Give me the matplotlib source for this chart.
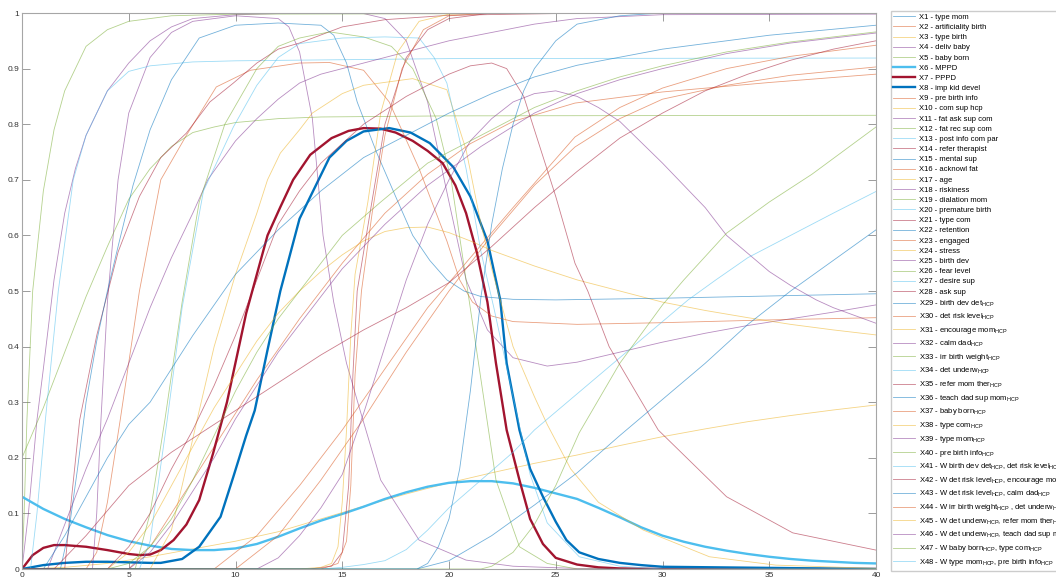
import matplotlib.pyplot as plt

plt.rcParams['font.family'] = ['Liberation Sans', 'DejaVu Sans']
plt.rcParams['mathtext.fontset'] = 'custom'
plt.rcParams['mathtext.rm'] = 'Liberation Sans'

H = '$_{\\mathrm{HCP}}$'
names = [
    'X1 - type mom', 'X2 - artificiality birth', 'X3 - type birth', 'X4 - deliv baby',
    'X5 - baby born', 'X6 - MPPD', 'X7 - PPPD', 'X8 - imp kid devel',
    'X9 - pre birth info', 'X10 - com sup hcp', 'X11 - fat ask sup com', 'X12 - fat rec sup com',
    'X13 - post info com par', 'X14 - refer therapist', 'X15 - mental sup', 'X16 - acknowl fat',
    'X17 - age', 'X18 - riskiness', 'X19 - dialation mom', 'X20 - premature birth',
    'X21 - type com', 'X22 - retention', 'X23 - engaged', 'X24 - stress',
    'X25 - birth dev', 'X26 - fear level', 'X27 - desire sup', 'X28 - ask sup',
    'X29 - birth dev det' + H, 'X30 - det risk level' + H, 'X31 - encourage mom' + H,
    'X32 - calm dad' + H, 'X33 - irr birth weight' + H, 'X34 - det underw' + H,
    'X35 - refer mom ther' + H, 'X36 - teach dad sup mom' + H, 'X37 - baby born' + H,
    'X38 - type com' + H, 'X39 - type mom' + H, 'X40 - pre birth info' + H,
    'X41 - W birth dev det' + H + ', det risk level' + H,
    'X42 - W det risk level' + H + ', encourage mom' + H,
    'X43 - W det risk level' + H + ', calm dad' + H,
    'X44 - W irr birth weight' + H + ' , det underw' + H,
    'X45 - W det underw' + H + ', refer mom ther' + H,
    'X46 - W det underw' + H + ', teach dad sup mom' + H,
    'X47 - W baby born' + H + ', type com' + H,
    'X48 - W type mom' + H + ', pre birth info' + H,
]

# (t, value) points
zero_line = [(0, 0), (40, 0)]
s01 = [(0, 1), (40, 1)]
s02 = [(0, 0), (5, 0), (6, 0.04), (7, 0.1), (9, 0.22), (11, 0.34), (13, 0.45), (15, 0.55), (17, 0.64),
       (19, 0.71), (21, 0.765), (23, 0.805), (25.9, 0.838), (30, 0.858), (35, 0.875), (40, 0.89)]
s03 = [(0, 0), (2, 0.003), (4, 0.01), (6, 0.022), (8, 0.036), (10, 0.05), (12, 0.067), (14, 0.09),
       (16, 0.113), (18, 0.135), (20, 0.155), (22, 0.173), (24, 0.19), (26, 0.205), (28, 0.222),
       (30, 0.238), (32, 0.252), (34, 0.265), (36, 0.276), (38, 0.286), (40, 0.295)]
s04 = [(0, 0), (0.3, 0.1), (0.7, 0.268), (1, 0.36), (1.5, 0.52), (2, 0.64), (2.5, 0.72), (3, 0.78),
       (4, 0.86), (5, 0.91), (6, 0.95), (7, 0.975), (8, 0.99), (10, 0.997), (12, 0.999), (16, 0.999),
       (17, 0.99), (18, 0.95), (19, 0.84), (20, 0.66), (20.8, 0.52), (21.8, 0.43), (23, 0.38),
       (24.6, 0.365), (26, 0.372), (28, 0.39), (30, 0.408), (32, 0.424), (34, 0.438), (36, 0.45),
       (38, 0.462), (40, 0.475)]
s05 = [(0, 0), (0.1, 0.1), (0.23, 0.268), (0.5, 0.5), (1, 0.68), (1.5, 0.79), (2, 0.86), (3, 0.94),
       (4, 0.97), (5, 0.985), (7, 0.995), (10, 0.998), (40, 1)]
s06_y = [0.13, 0.108, 0.09, 0.075, 0.061, 0.05, 0.042, 0.036, 0.034, 0.034, 0.037, 0.045, 0.058,
         0.073, 0.087, 0.099, 0.112, 0.126, 0.138, 0.148, 0.155, 0.158, 0.158, 0.154, 0.146, 0.136,
         0.126, 0.11, 0.093, 0.075, 0.06, 0.049, 0.04, 0.033, 0.027, 0.022, 0.018, 0.015, 0.013,
         0.011, 0.01]
s06 = list(zip(range(41), s06_y))
s07 = [(0, 0), (0.5, 0.025), (1, 0.038), (1.5, 0.043), (2, 0.043), (3, 0.04), (4, 0.034), (5, 0.027),
       (5.5, 0.025), (6, 0.026), (6.5, 0.034), (7.1, 0.052), (7.7, 0.08), (8.3, 0.124), (8.95, 0.208),
       (9.6, 0.3), (10.5, 0.46), (11.5, 0.6), (12.1, 0.651), (12.7, 0.7), (13.5, 0.745), (14.5, 0.775),
       (15.3, 0.788), (16, 0.793), (16.8, 0.792), (17.5, 0.785), (18.3, 0.77), (19, 0.752),
       (19.7, 0.73), (20.3, 0.69), (20.8, 0.64), (21.3, 0.57), (21.8, 0.48), (22.2, 0.37),
       (22.7, 0.25), (23.3, 0.16), (23.8, 0.09), (24.4, 0.045), (25, 0.02), (26, 0.008),
       (27, 0.003), (28, 0.001), (30, 0), (40, 0)]
s08 = [(0, 0), (1, 0.007), (2, 0.011), (3, 0.013), (4, 0.013), (5, 0.012), (6, 0.011), (6.5, 0.011),
       (7.5, 0.018), (8.3, 0.04), (9.3, 0.094), (9.9, 0.166), (10.5, 0.24), (10.9, 0.285),
       (11.5, 0.394), (12.1, 0.5), (13, 0.63), (14.4, 0.74), (15.2, 0.77), (16, 0.787), (17.2, 0.793),
       (18.2, 0.785), (19.1, 0.766), (20.2, 0.723), (21, 0.67), (21.8, 0.59), (22.4, 0.484),
       (22.7, 0.37), (23.3, 0.25), (23.8, 0.18), (24.4, 0.13), (25, 0.085), (25.5, 0.052),
       (26.1, 0.03), (27, 0.018), (28, 0.011), (29, 0.007), (30, 0.004), (40, 0)]
s09 = [(0, 0), (3, 0), (3.5, 0.03), (4, 0.12), (4.6, 0.268), (5.5, 0.5), (6.5, 0.7), (7.7, 0.78),
       (9.1, 0.867), (10.7, 0.897), (13, 0.91), (14.4, 0.911), (16, 0.897), (17.2, 0.84),
       (18.6, 0.72), (19.9, 0.59), (20.5, 0.52), (21.1, 0.48), (22, 0.455), (23, 0.445), (26, 0.44),
       (30, 0.443), (35, 0.448), (40, 0.452)]
s10 = [(0, 0), (4, 0), (5, 0.03), (6, 0.08), (7, 0.15), (8, 0.22), (9, 0.29), (10, 0.35), (11, 0.41),
       (12, 0.46), (13, 0.5), (14, 0.535), (15, 0.565), (16, 0.59), (17, 0.607), (18, 0.614),
       (19, 0.615), (20, 0.605), (21, 0.59), (22, 0.573), (24, 0.545), (26, 0.52), (28, 0.5),
       (30, 0.48), (32, 0.465), (34, 0.452), (36, 0.44), (38, 0.43), (40, 0.421)]
s11 = [(0, 0), (3.3, 0), (3.5, 0.1), (3.7, 0.27), (4, 0.48), (4.5, 0.7), (5, 0.82), (6, 0.92),
       (7, 0.965), (8, 0.985), (10, 0.995), (12, 0.99), (12.5, 0.975), (13, 0.93), (13.6, 0.81),
       (14.1, 0.6), (14.6, 0.48), (15.2, 0.37), (15.8, 0.29), (16.8, 0.16), (18.6, 0.052),
       (20.8, 0.016), (23, 0.005), (26, 0.001), (40, 0)]
s12 = [(0, 0.2), (1, 0.29), (2, 0.39), (3, 0.49), (4, 0.58), (5, 0.665), (6, 0.72), (7, 0.76),
       (8, 0.785), (9, 0.795), (10, 0.803), (12, 0.81), (14, 0.813), (20, 0.815), (40, 0.816)]
s13 = [(0, 0), (0.4, 0), (0.7, 0.1), (1.1, 0.27), (1.7, 0.5), (2.4, 0.7), (3, 0.78), (4, 0.86),
       (5, 0.895), (6, 0.905), (8, 0.912), (10, 0.914), (15, 0.916), (20, 0.918), (40, 0.919)]
s14 = [(0, 0), (2, 0), (2.3, 0.12), (2.7, 0.268), (3.5, 0.42), (4.5, 0.57), (5.5, 0.67), (6.5, 0.74),
       (7.7, 0.784), (8.8, 0.84), (9.9, 0.874), (11, 0.91), (12, 0.935), (13, 0.946), (15, 0.975),
       (17, 0.988), (20, 0.996), (25, 0.999), (40, 1)]
s15 = [(0, 0), (1.8, 0), (2.2, 0.07), (2.6, 0.18), (3, 0.3), (3.5, 0.41), (4, 0.5), (4.5, 0.58),
       (5.2, 0.69), (6, 0.79), (7, 0.88), (8.3, 0.955), (10, 0.978), (12, 0.982), (14, 0.978),
       (14.6, 0.96), (15.2, 0.91), (15.7, 0.84), (16.6, 0.75), (17.5, 0.67), (18.3, 0.6),
       (19.1, 0.555), (19.9, 0.52), (20.7, 0.5), (21.5, 0.49), (23, 0.485), (25, 0.484),
       (30, 0.487), (35, 0.491), (40, 0.495)]
s16 = [(0, 0), (9, 0), (11, 0.06), (13, 0.15), (15, 0.25), (17, 0.36), (19, 0.47), (21, 0.56),
       (23, 0.65), (25.9, 0.777), (28, 0.83), (30, 0.865), (33, 0.9), (36, 0.922), (40, 0.942)]
s17 = [(0, 0), (6, 0), (7, 0.07), (7.5, 0.15), (8.2, 0.268), (9, 0.4), (10, 0.53), (11, 0.64),
       (11.5, 0.7), (12.1, 0.748), (13, 0.79), (13.6, 0.82), (15, 0.855), (16, 0.87), (18.3, 0.882),
       (19.9, 0.862), (20.8, 0.754), (21.5, 0.62), (22, 0.54), (22.5, 0.47), (23, 0.4), (24, 0.31),
       (24.6, 0.26), (25.7, 0.18), (27, 0.12), (29.1, 0.07), (32.2, 0.022), (35.3, 0.007),
       (40, 0.001)]
s18 = [(0, 0), (1.2, 0), (2, 0.08), (3, 0.18), (4, 0.27), (5, 0.37), (6, 0.47), (7, 0.56), (8, 0.64),
       (8.7, 0.7), (10, 0.77), (11, 0.81), (12, 0.845), (13, 0.874), (14, 0.89), (16, 0.91),
       (18, 0.93), (20, 0.95), (22, 0.965), (24, 0.98), (26, 0.99), (30, 0.997), (40, 0.998)]
s19 = [(0, 0), (5.3, 0), (6, 0.1), (6.7, 0.27), (7.5, 0.48), (8.3, 0.66), (9.5, 0.8), (11, 0.9),
       (12, 0.94), (13, 0.955), (14.4, 0.966), (16, 0.957), (17.3, 0.94), (18.3, 0.9), (19.4, 0.81),
       (20.1, 0.7), (20.8, 0.52), (21.5, 0.34), (22.2, 0.16), (23.3, 0.04), (24.6, 0.01), (26, 0),
       (40, 0)]
s20 = [(0, 0), (5.5, 0), (6, 0.05), (6.8, 0.268), (7.5, 0.47), (8.5, 0.68), (9.9, 0.795), (11, 0.87),
       (12, 0.92), (13, 0.945), (15, 0.955), (17, 0.957), (18.6, 0.955), (19.3, 0.92),
       (19.9, 0.874), (20.8, 0.72), (21.5, 0.57), (22.1, 0.47), (23, 0.31), (23.8, 0.17),
       (24.6, 0.083), (26.1, 0.022), (28, 0.005), (30, 0), (40, 0)]
s21 = [(0, 0), (13.5, 0), (14.5, 0.005), (15, 0.03), (15.3, 0.15), (15.5, 0.35), (15.7, 0.5),
       (16.3, 0.64), (17, 0.8), (18, 0.92), (19, 0.97), (20, 0.99), (22, 1), (40, 1)]
s22 = [(0, 0), (1, 0), (2, 0.06), (3, 0.13), (4, 0.2), (5, 0.26), (6, 0.3), (8, 0.42), (10, 0.53),
       (12, 0.61), (14, 0.68), (16, 0.74), (18, 0.78), (20, 0.82), (22, 0.855), (24, 0.885),
       (26, 0.906), (30, 0.935), (35, 0.96), (40, 0.978)]
s23 = [(0, 0), (10, 0), (12, 0.06), (14, 0.16), (16, 0.27), (18, 0.39), (20, 0.5), (22, 0.6),
       (24, 0.69), (25.9, 0.759), (28, 0.81), (30, 0.845), (33, 0.87), (36, 0.888), (40, 0.903)]
s24 = [(0, 0), (13, 0), (14, 0.003), (14.5, 0.01), (14.8, 0.04), (15, 0.12), (15.2, 0.25),
       (15.4, 0.42), (15.6, 0.53), (16.2, 0.66), (16.8, 0.82), (17.6, 0.93), (18.6, 0.985),
       (20, 0.998), (22, 1), (40, 1)]
s25 = [(0, 0), (11, 0), (12, 0.02), (13, 0.06), (14, 0.11), (15, 0.17), (16, 0.28), (17, 0.4),
       (18, 0.52), (19, 0.62), (20, 0.7), (21, 0.77), (22, 0.81), (23, 0.84), (24, 0.855),
       (25, 0.86), (26, 0.85), (27, 0.83), (28, 0.805), (30, 0.73), (32, 0.65), (33, 0.6),
       (35, 0.535), (36, 0.51), (37.2, 0.484), (38, 0.47), (40, 0.442)]
s26 = [(0, 0), (4, 0), (5, 0.01), (6, 0.04), (7, 0.09), (8, 0.16), (9, 0.24), (10, 0.32), (11, 0.39),
       (12, 0.45), (13, 0.5), (14, 0.55), (15, 0.6), (16.8, 0.66), (19, 0.73), (21.5, 0.78),
       (24, 0.83), (26, 0.86), (28, 0.885), (30, 0.905), (33, 0.93), (36, 0.948), (40, 0.966)]
s27 = [(0, 0), (14, 0), (15, 0.003), (16, 0.008), (17, 0.015), (18, 0.035), (19, 0.07), (20, 0.11),
       (21.5, 0.16), (23, 0.21), (24, 0.25), (26, 0.315), (28, 0.38), (30, 0.445), (31.2, 0.484),
       (32.5, 0.52), (34, 0.56), (36, 0.6), (38, 0.64), (40, 0.679)]
s28 = [(0, 0), (4, 0), (5, 0.04), (6, 0.1), (7, 0.18), (8, 0.25), (9, 0.33), (10, 0.42), (11, 0.52),
       (12, 0.62), (13, 0.68), (14, 0.73), (16, 0.8), (18, 0.85), (20, 0.89), (21, 0.905), (22, 0.91),
       (22.7, 0.9), (23.5, 0.85), (24.3, 0.754), (25, 0.67), (25.9, 0.55), (26.5, 0.5), (27.5, 0.4),
       (29.8, 0.25), (33, 0.13), (36.1, 0.065), (40, 0.034)]
s29 = [(0, 0), (18.5, 0), (20, 0.015), (22, 0.06), (24, 0.115), (26, 0.173), (28, 0.24),
       (30, 0.305), (32, 0.37), (34, 0.44), (36, 0.5), (38, 0.555), (40, 0.61)]
s30 = [(0, 0), (14, 0), (14.8, 0.01), (15.2, 0.05), (15.4, 0.15), (15.6, 0.35), (15.9, 0.5),
       (16.4, 0.64), (17, 0.78), (17.8, 0.9), (18.8, 0.97), (20, 0.995), (22, 1), (40, 1)]
s32 = [(0, 0), (5, 0), (6, 0.03), (7, 0.08), (8, 0.14), (9, 0.2), (10, 0.27), (11, 0.33), (12, 0.39),
       (13, 0.44), (14, 0.49), (15, 0.54), (17, 0.62), (19, 0.69), (21.5, 0.76), (24, 0.82),
       (26, 0.855), (28, 0.88), (30, 0.9), (33, 0.927), (36, 0.946), (40, 0.964)]
s33 = [(0, 0), (21.5, 0), (22, 0.005), (23, 0.03), (24, 0.08), (25, 0.15), (26.1, 0.245), (28, 0.37),
       (30, 0.475), (31, 0.52), (33, 0.604), (35, 0.66), (37, 0.71), (40, 0.795)]
s35 = [(0, 0), (1.5, 0), (3, 0.06), (5, 0.15), (7, 0.21), (9, 0.26), (11, 0.31), (12, 0.335),
       (14, 0.385), (16, 0.43), (18, 0.47), (20, 0.515), (22, 0.58), (24, 0.65), (26, 0.715),
       (28, 0.775), (30, 0.82), (32, 0.86), (34, 0.89), (36, 0.915), (38, 0.935), (40, 0.95)]
s36 = [(0, 0), (18.5, 0), (19, 0.01), (19.5, 0.04), (20, 0.09), (20.5, 0.18), (21, 0.32), (21.5, 0.49),
       (22, 0.62), (22.5, 0.72), (23, 0.8), (23.5, 0.86), (24, 0.9), (25, 0.95), (26, 0.98),
       (28, 0.995), (30, 1), (40, 1)]

series = [s01, s02, s03, s04, s05, s06, s07, s08, s09, s10, s11, s12, s13, s14, s15, s16,
          s17, s18, s19, s20, s21, s22, s23, s24, s25, s26, s27, s28, s29, s30, zero_line, s32,
          s33, zero_line, s35, s36] + [zero_line] * 12

colors = [(0, 0.447, 0.741), (0.85, 0.325, 0.098), (0.929, 0.694, 0.125), (0.494, 0.184, 0.556),
          (0.466, 0.674, 0.188), (0.301, 0.745, 0.933), (0.635, 0.078, 0.184)]
thick = {5, 6, 7}

fig = plt.figure(figsize=(10.56, 5.79), dpi=100)
ax = fig.add_axes([22 / 1056, 10 / 579, 854 / 1056, 556 / 579])

handles = []
for i, pts in enumerate(series):
    xs = [p[0] for p in pts]
    ys = [p[1] for p in pts]
    if i in thick:
        ln, = ax.plot(xs, ys, color=colors[i % 7], lw=1.7)
    else:
        ln, = ax.plot(xs, ys, color=colors[i % 7], lw=0.6, alpha=0.55)
    handles.append(ln)

ax.set_xlim(0, 40)
ax.set_ylim(0, 1)
ax.set_xticks(range(0, 41, 5))
ax.set_xticklabels([str(v) for v in range(0, 41, 5)])
yt = [i / 10 for i in range(11)]
ax.set_yticks(yt)
ax.set_yticklabels(['0', '0.1', '0.2', '0.3', '0.4', '0.5', '0.6', '0.7', '0.8', '0.9', '1'])
ax.tick_params(direction='in', length=5.5, width=0.6, colors='0.55', labelcolor='0.2',
               labelsize=6, top=True, right=True, pad=2)
for sp in ax.spines.values():
    sp.set_color('0.65')
    sp.set_linewidth(0.8)

ax.legend(handles, names, loc='upper left', bbox_to_anchor=(887 / 1056, 1 - 7 / 579),
          bbox_transform=fig.transFigure, fontsize=5.5, labelspacing=0.37, handlelength=2.8,
          handletextpad=0.5, borderpad=0.35, fancybox=False, edgecolor='0.8', framealpha=1)

fig.savefig('out.png', dpi=100)
